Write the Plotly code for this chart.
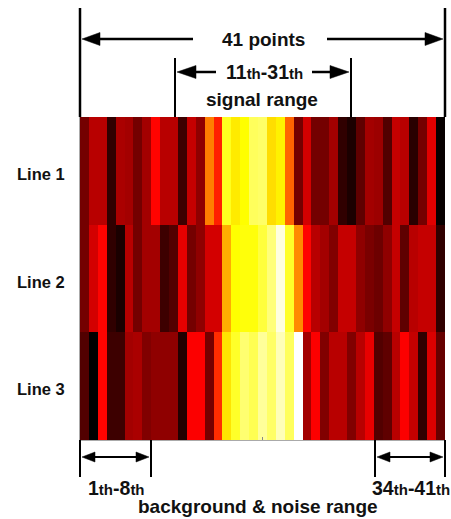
import plotly.graph_objects as go

W, H = 451, 519
L, R, T, B = 80, 445, 117, 440

row_names = ["Line 1", "Line 2", "Line 3"]
line_1 = [.17, .27, .27, .07, .25, .24, .17, .24, .38, .27, .27, .09, .29, .21, .56, .42, .78, .72, .75, .84, .85,
          .70, .73, .52, .17, .31, .17, .17, .24, .07, .04, .14, .24, .23, .12, .29, .27, .06, .17, .33, .01]
line_2 = [.17, .31, .38, .07, .04, .27, .17, .24, .24, .09, .12, .34, .17, .21, .31, .31, .63, .75, .76, .76, .81,
          .87, .97, .79, .58, .38, .27, .24, .19, .29, .29, .21, .18, .16, .21, .29, .14, .27, .29, .29, .07]
line_3 = [.12, .00, .38, .09, .09, .24, .25, .19, .21, .21, .21, .05, .37, .37, .17, .44, .71, .79, .86, .83, .90,
          .85, .93, .84, 1.0, .24, .37, .19, .27, .27, .19, .27, .34, .12, .14, .27, .37, .29, .07, .32, .15]
points = list(range(1, 42))

hot = [[0, "#000000"], [0.375, "#ff0000"], [0.75, "#ffff00"], [1, "#ffffff"]]


def px(x):
    return (x - L) / (R - L)


def py(y):
    return (B - y) / (B - T)


shapes = []


def vline(x, y0, y1, width):
    shapes.append(dict(type="line", xref="paper", yref="paper", x0=px(x), x1=px(x), y0=py(y0), y1=py(y1),
                       line=dict(color="black", width=width), layer="above"))


def arrow(x0, x1, y, direction, length, half, width=2.5):
    """Shaft from x0 to x1 with a filled head at x1 pointing along direction."""
    shapes.append(dict(type="line", xref="paper", yref="paper", x0=px(x0), x1=px(x1 - direction * length * .6),
                       y0=py(y), y1=py(y), line=dict(color="black", width=width), layer="above"))
    base = x1 - direction * length
    path = f"M {px(x1)} {py(y)} L {px(base)} {py(y - half)} L {px(base)} {py(y + half)} Z"
    shapes.append(dict(type="path", xref="paper", yref="paper", path=path, fillcolor="black",
                       line=dict(color="black", width=0.5), layer="above"))


vline(80, 8, 117, 2.5)
vline(445, 8, 117, 2.5)
vline(175, 58, 117, 2)
vline(351, 58, 117, 2)
vline(80, 440, 477, 2)
vline(151, 440, 477, 2)
vline(375, 440, 477, 2)
vline(445, 440, 477, 2)

arrow(193, 82, 39, -1, 18, 6.5)
arrow(327, 443, 39, 1, 18, 6.5)
arrow(216, 177, 72, -1, 19, 6.5)
arrow(312, 349, 72, 1, 19, 6.5)
arrow(115, 82, 457, -1, 13, 5, 2)
arrow(115, 149, 457, 1, 13, 5, 2)
arrow(410, 377, 457, -1, 13, 5, 2)
arrow(410, 443, 457, 1, 13, 5, 2)

FONT = "Liberation Sans, Arial, sans-serif"


def th(a, b):
    s = '<span style="font-size:15px">th</span>'
    return f"<b>{a}{s}-{b}{s}</b>"


texts = [
    (263, 39, "<b>41 points</b>", 19),
    (264, 72, th(11, 31), 19.5),
    (262, 99, "<b>signal range</b>", 19),
    (116, 488, th(1, 8), 19.5),
    (411, 488, th(34, 41), 19.5),
    (258, 506, "<b>background &amp; noise range</b>", 19),
]
annotations = [
    dict(x=px(x), y=py(y), xref="paper", yref="paper", text=t, showarrow=False,
         font=dict(family=FONT, size=s, color="#111111"), xanchor="center", yanchor="middle")
    for x, y, t, s in texts
]
for name in row_names:
    annotations.append(dict(x=px(41), y=name, xref="paper", yref="y", text=f"<b>{name}</b>", showarrow=False,
                            yshift=-3, font=dict(family=FONT, size=16.5, color="#111111"),
                            xanchor="center", yanchor="middle"))

fig = go.Figure(go.Heatmap(
    z=[line_1, line_2, line_3], x=points, y=row_names,
    colorscale=hot, zmin=0, zmax=1, showscale=False, xgap=0, ygap=0,
))
fig.update_layout(
    width=W, height=H, autosize=False,
    margin=dict(l=L, r=W - R, t=T, b=H - B),
    paper_bgcolor="white", plot_bgcolor="white",
    font=dict(family=FONT, color="#111111"),
    shapes=shapes, annotations=annotations,
    xaxis=dict(range=[0.5, 41.5], showgrid=False, zeroline=False, showticklabels=False,
               tickvals=[21], ticks="inside", ticklen=3, tickcolor="#888888",
               showline=True, linecolor="#aaaaaa", linewidth=1, mirror=False),
    yaxis=dict(autorange="reversed", showgrid=False, zeroline=False, ticks="", showticklabels=False,
               showline=True, linecolor="#aaaaaa", linewidth=1),
)
fig.write_html("out.html", config={"displayModeBar": False},
               post_script="document.body.style.margin='0';document.documentElement.style.overflow='hidden';")
